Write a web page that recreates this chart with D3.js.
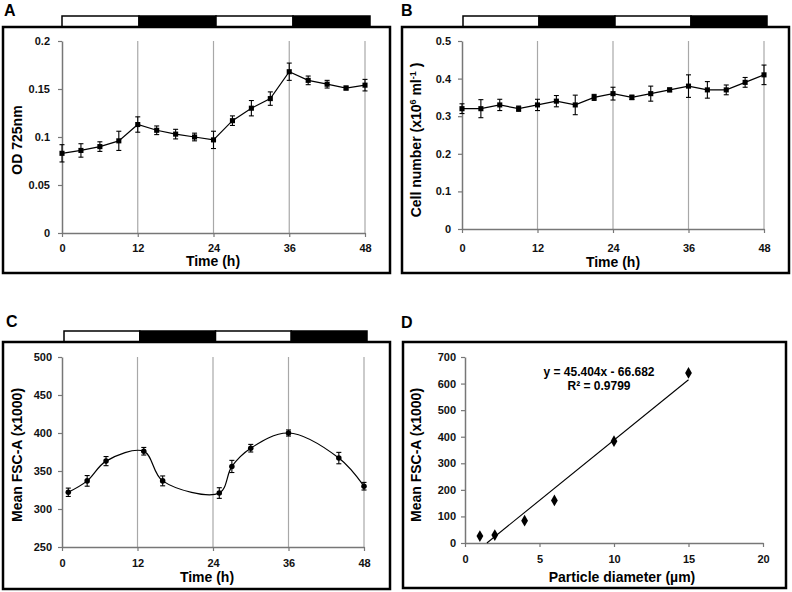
<!DOCTYPE html>
<html>
<head>
<meta charset="utf-8">
<script src="https://cdn.jsdelivr.net/npm/d3@7"></script>
<style>
  body { margin: 0; background: #fff; }
  svg { font-family: "Liberation Sans", Arial, sans-serif; font-weight: bold; }
</style>
</head>
<body>
<svg width="792" height="592"></svg>
<script>
// light / dark phases of the cycle
var phaseStart = [0, 12, 24, 36];
var phaseEnd = [12, 24, 36, 48];
var phaseDark = [false, true, false, true];

var timeTicks = [0, 12, 24, 36, 48];

// A: optical density
var odTime = [0, 3, 6, 9, 12, 15, 18, 21, 24, 27, 30, 33, 36, 39, 42, 45, 48];
var odMean = [0.083, 0.086, 0.090, 0.096, 0.113, 0.107, 0.103, 0.100, 0.097, 0.117, 0.130, 0.140, 0.168, 0.159, 0.155, 0.151, 0.154];
var odErr = [0.009, 0.007, 0.005, 0.010, 0.008, 0.0045, 0.005, 0.004, 0.009, 0.005, 0.008, 0.007, 0.009, 0.0045, 0.004, 0.002, 0.006];
var odTicks = [0, 0.05, 0.1, 0.15, 0.2];

// B: cell number
var cellTime = [0, 3, 6, 9, 12, 15, 18, 21, 24, 27, 30, 33, 36, 39, 42, 45, 48];
var cellMean = [0.32, 0.32, 0.33, 0.32, 0.33, 0.34, 0.33, 0.35, 0.36, 0.35, 0.36, 0.37, 0.38, 0.37, 0.37, 0.39, 0.41];
var cellErr = [0.013, 0.024, 0.015, 0.007, 0.015, 0.015, 0.026, 0.008, 0.017, 0.006, 0.02, 0.005, 0.03, 0.022, 0.013, 0.013, 0.026];
var cellTicks = [0, 0.1, 0.2, 0.3, 0.4, 0.5];

// C: forward scatter over time
var fscTime = [1, 4, 7, 13, 16, 25, 27, 30, 36, 44, 48];
var fscMean = [322, 337, 363, 376, 337, 321, 356, 380, 400, 367, 330];
var fscErr = [5.5, 7, 6, 5, 6.5, 7, 8, 5, 4, 7.5, 5];
var fscTicks = [250, 300, 350, 400, 450, 500];

// D: bead calibration
var beadDiameter = [1, 2, 4, 6, 10, 15];
var beadFsc = [26, 30, 84, 160, 383, 640];
var fitSlope = 45.404;
var fitIntercept = -66.682;
var fitEquation = "y = 45.404x - 66.682";
var fitR2 = "R² = 0.9799";
var beadXTicks = [0, 5, 10, 15, 20];
var beadYTicks = [0, 100, 200, 300, 400, 500, 600, 700];

var svg = d3.select("svg");
var axisColor = "#777";

function frame(x0, y0, x1, y1) {
  svg.append("rect")
    .attr("x", x0).attr("y", y0)
    .attr("width", x1 - x0).attr("height", y1 - y0)
    .attr("fill", "none").attr("stroke", "#000").attr("stroke-width", 2.5);
}

function panelLetter(t, x, y) {
  svg.append("text").attr("x", x).attr("y", y)
    .attr("font-size", 16).attr("font-weight", 900).text(t);
}

function phaseBar(x0, x1, yBottom) {
  var xb = d3.scaleLinear().domain([0, 48]).range([x0, x1]);
  svg.append("g").selectAll("rect")
    .data(phaseStart)
    .join("rect")
      .attr("x", function(d) { return xb(d); })
      .attr("width", function(d, i) { return xb(phaseEnd[i]) - xb(d); })
      .attr("y", yBottom - 11)
      .attr("height", 11)
      .attr("fill", function(d, i) { return phaseDark[i] ? "#000" : "#fff"; })
      .attr("stroke", "#000")
      .attr("stroke-width", 1.5);
}

function styleAxis(g) {
  g.select(".domain").attr("stroke", axisColor).attr("stroke-width", 1.5);
  g.selectAll(".tick line").attr("stroke", axisColor).attr("stroke-width", 1.2);
  g.selectAll(".tick text")
    .attr("fill", "#111").attr("font-size", 11)
    .attr("font-family", "Liberation Sans, Arial, sans-serif")
    .attr("font-weight", "bold");
}

function axes(x, y, xTicks, yTicks, xPad, yPad) {
  var y0 = y.range()[0], x0 = x.range()[0];
  svg.append("g")
    .attr("transform", "translate(0," + y0 + ")")
    .call(d3.axisBottom(x).tickValues(xTicks).tickSize(4).tickSizeOuter(0)
      .tickPadding(xPad).tickFormat(String))
    .call(styleAxis);
  svg.append("g")
    .attr("transform", "translate(" + x0 + ",0)")
    .call(d3.axisLeft(y).tickValues(yTicks).tickSize(4).tickSizeOuter(0)
      .tickPadding(yPad).tickFormat(String))
    .call(styleAxis);
}

function grid(x, y) {
  svg.append("g").selectAll("line")
    .data(timeTicks.slice(1))
    .join("line")
      .attr("x1", function(d) { return x(d); })
      .attr("x2", function(d) { return x(d); })
      .attr("y1", y.range()[0])
      .attr("y2", y.range()[1])
      .attr("stroke", "#a8a8a8")
      .attr("stroke-width", 1.2);
}

function xTitle(t, x, y) {
  svg.append("text").attr("x", x).attr("y", y)
    .attr("text-anchor", "middle").attr("font-size", 14).text(t);
}

function yTitle(x, y) {
  return svg.append("text")
    .attr("transform", "translate(" + x + "," + y + ") rotate(-90)")
    .attr("text-anchor", "middle").attr("font-size", 14);
}

function errorBars(x, y, xs, ys, es) {
  var g = svg.append("g").attr("stroke", "#000").attr("stroke-width", 1.1);
  g.selectAll(".v").data(xs).join("line")
    .attr("x1", function(d) { return x(d); }).attr("x2", function(d) { return x(d); })
    .attr("y1", function(d, i) { return y(ys[i] - es[i]); })
    .attr("y2", function(d, i) { return y(ys[i] + es[i]); });
  [-1, 1].forEach(function(s) {
    g.selectAll(".c" + s).data(xs).join("line")
      .attr("x1", function(d) { return x(d) - 2.5; }).attr("x2", function(d) { return x(d) + 2.5; })
      .attr("y1", function(d, i) { return y(ys[i] + s * es[i]); })
      .attr("y2", function(d, i) { return y(ys[i] + s * es[i]); });
  });
}

function series(x, y, xs, ys, es, curve, symbol, size) {
  var line = d3.line()
    .x(function(d) { return x(d); })
    .y(function(d, i) { return y(ys[i]); })
    .curve(curve);
  svg.append("path").datum(xs)
    .attr("d", line).attr("fill", "none")
    .attr("stroke", "#000").attr("stroke-width", 1.2);
  errorBars(x, y, xs, ys, es);
  svg.append("g").selectAll("path").data(xs).join("path")
    .attr("transform", function(d, i) { return "translate(" + x(d) + "," + y(ys[i]) + ")"; })
    .attr("d", d3.symbol().type(symbol).size(size))
    .attr("fill", "#000");
}

// ---------- A ----------
panelLetter("A", 4, 16);
phaseBar(62, 370, 27);
frame(3, 27, 390, 273);
var xA = d3.scaleLinear().domain([0, 48]).range([62, 365]);
var yA = d3.scaleLinear().domain([0, 0.2]).range([233, 41]);
grid(xA, yA);
axes(xA, yA, timeTicks, odTicks, 7, 8);
series(xA, yA, odTime, odMean, odErr, d3.curveLinear, d3.symbolSquare, 26);
xTitle("Time (h)", 213, 266);
yTitle(22, 140).text("OD 725nm");

// ---------- B ----------
panelLetter("B", 401, 16);
phaseBar(463, 767, 27);
frame(402, 27, 789, 273);
var xB = d3.scaleLinear().domain([0, 48]).range([462, 764]);
var yB = d3.scaleLinear().domain([0, 0.5]).range([229, 41]);
grid(xB, yB);
axes(xB, yB, timeTicks, cellTicks, 11, 7);
series(xB, yB, cellTime, cellMean, cellErr, d3.curveLinear, d3.symbolSquare, 26);
xTitle("Time (h)", 613, 267);
var tB = yTitle(421, 140);
tB.append("tspan").text("Cell number (x10");
tB.append("tspan").attr("dy", -5).attr("font-size", 9).text("6");
tB.append("tspan").attr("dy", 5).text(" ml");
tB.append("tspan").attr("dy", -5).attr("font-size", 9).text("-1");
tB.append("tspan").attr("dy", 5).text(" )");

// ---------- C ----------
panelLetter("C", 6, 327);
phaseBar(64, 367, 342);
frame(3, 342, 390, 589);
var xC = d3.scaleLinear().domain([0, 48]).range([62, 364]);
var yC = d3.scaleLinear().domain([250, 500]).range([547, 357]);
grid(xC, yC);
axes(xC, yC, timeTicks, fscTicks, 8, 6);
series(xC, yC, fscTime, fscMean, fscErr, d3.curveCatmullRom.alpha(0.5), d3.symbolCircle, 24);
xTitle("Time (h)", 207, 582);
yTitle(22, 455).text("Mean FSC-A (x1000)");

// ---------- D ----------
panelLetter("D", 401, 328);
frame(403, 342, 786, 588);
var xD = d3.scaleLinear().domain([0, 20]).range([465, 763]);
var yD = d3.scaleLinear().domain([0, 700]).range([543, 357]);
axes(xD, yD, beadXTicks, beadYTicks, 8, 5);
var fitX = [-fitIntercept / fitSlope, 15];
svg.append("line")
  .attr("x1", xD(fitX[0])).attr("y1", yD(fitSlope * fitX[0] + fitIntercept))
  .attr("x2", xD(fitX[1])).attr("y2", yD(fitSlope * fitX[1] + fitIntercept))
  .attr("stroke", "#000").attr("stroke-width", 1.1);
svg.append("g").selectAll("path").data(beadDiameter).join("path")
  .attr("transform", function(d, i) { return "translate(" + xD(d) + "," + yD(beadFsc[i]) + ")"; })
  .attr("d", d3.symbol().type(d3.symbolDiamond).size(40))
  .attr("fill", "#000");
svg.append("text").attr("x", 599).attr("y", 376).attr("text-anchor", "middle")
  .attr("font-size", 12).text(fitEquation);
svg.append("text").attr("x", 599).attr("y", 390).attr("text-anchor", "middle")
  .attr("font-size", 12).text(fitR2);
xTitle("Particle diameter (µm)", 622, 582);
yTitle(421, 455).text("Mean FSC-A (x1000)");
</script>
</body>
</html>
